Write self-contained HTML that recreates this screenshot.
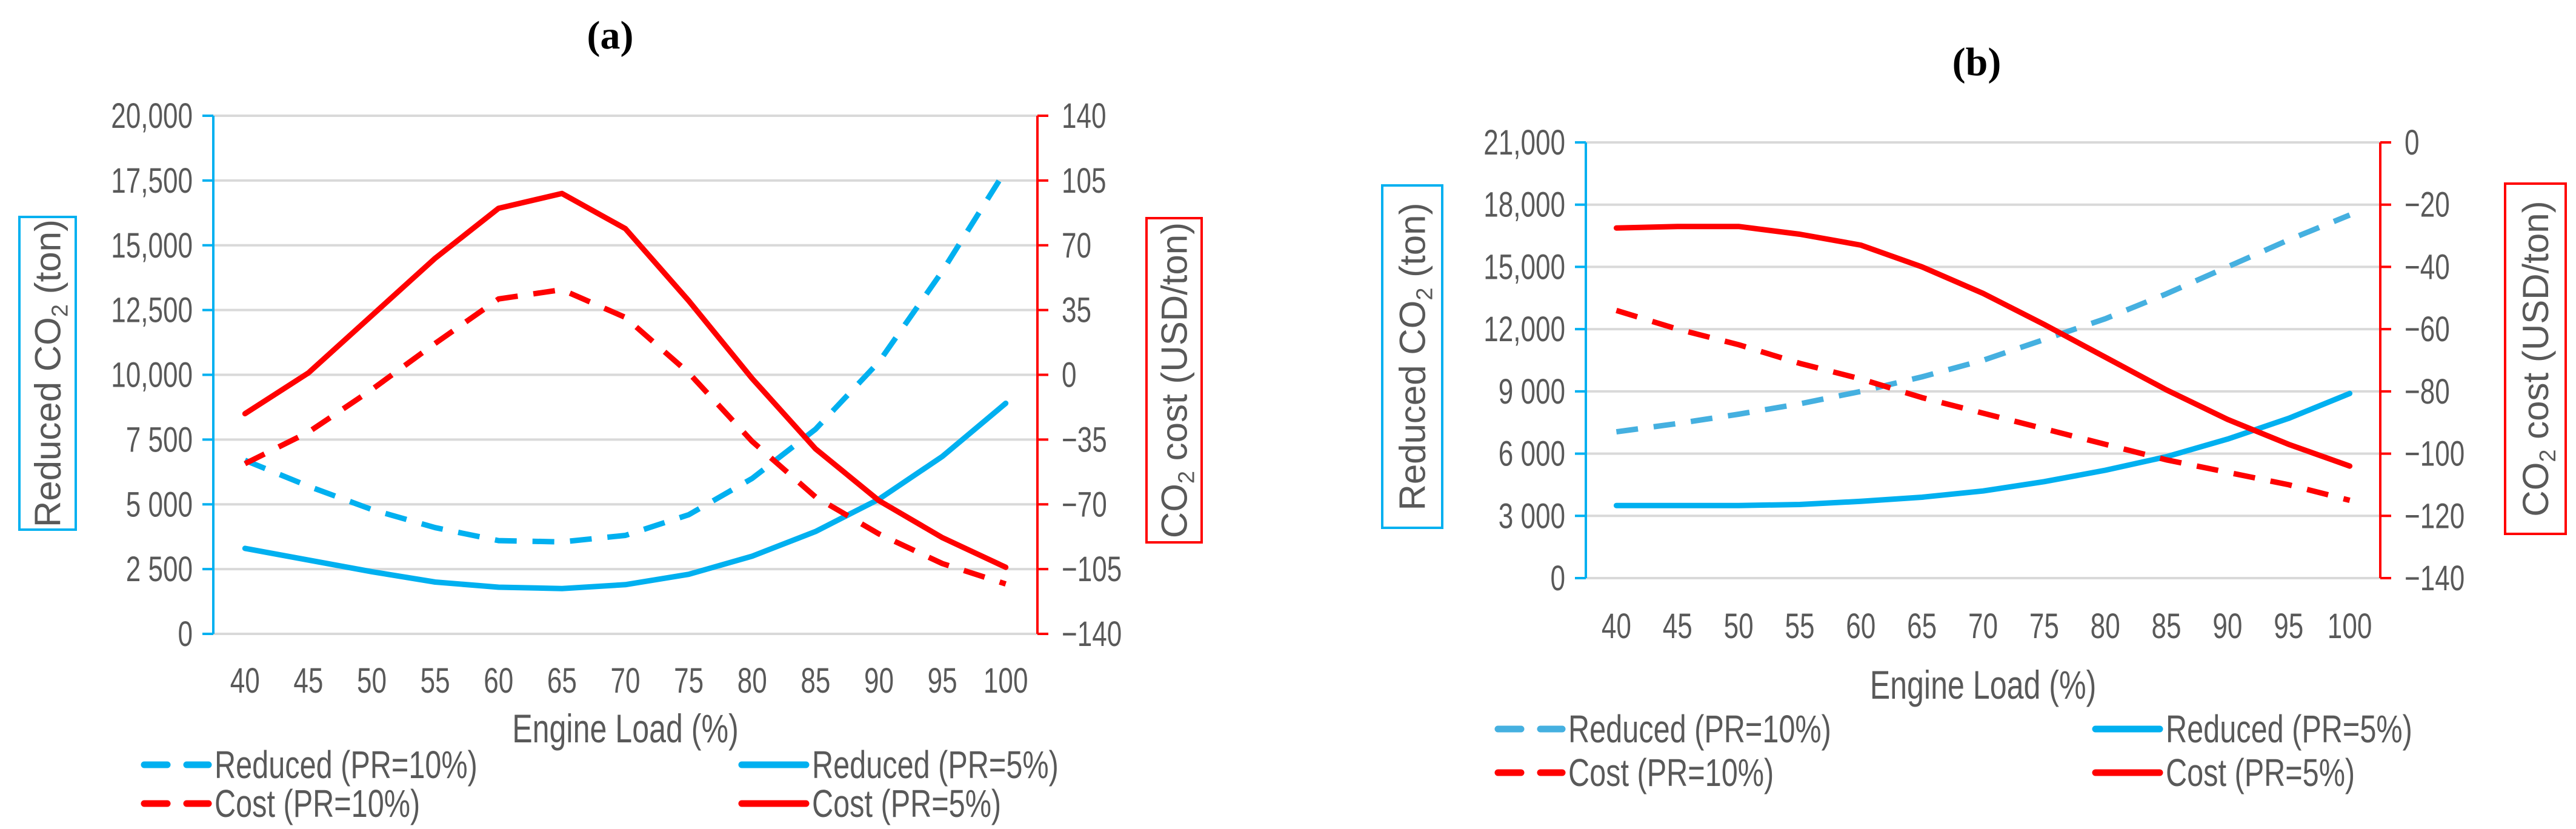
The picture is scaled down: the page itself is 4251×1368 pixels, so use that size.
<!DOCTYPE html>
<html><head><meta charset="utf-8">
<style>
html,body{margin:0;padding:0;background:#fff;}
svg{display:block;font-family:"Liberation Sans Narrow","Liberation Sans",sans-serif;}
</style></head>
<body>
<svg id="fig" width="4251" height="1368" viewBox="0 0 4251 1368" xmlns="http://www.w3.org/2000/svg">
<text x="1007" y="80" font-family="Liberation Serif, serif" font-weight="bold" font-size="66" text-anchor="middle">(a)</text>
<text x="3262" y="124" font-family="Liberation Serif, serif" font-weight="bold" font-size="66" text-anchor="middle">(b)</text>
</svg>
<script>
const categories = [40,45,50,55,60,65,70,75,80,85,90,95,100];
const aReduced10 = [6700,5700,4800,4100,3600,3550,3800,4600,6000,7900,10500,14000,17900];
const aReduced5 = [3300,2850,2400,2000,1800,1750,1900,2300,3000,3950,5200,6850,8900];
const aCost10 = [-48,-31,-8,17,41,46,31,1,-36,-66,-86,-102,-113];
const aCost5 = [-21,1,32,63,90,98,79,40,-2,-40,-68,-88,-104];
const aLeftTicks = ["0","2 500","5 000","7 500","10,000","12,500","15,000","17,500","20,000"];
const aRightTicks = ["−140","−105","−70","−35","0","35","70","105","140"];
const bReduced10 = [7050,7450,7900,8400,9000,9700,10500,11500,12500,13700,15000,16300,17500];
const bReduced5 = [3500,3500,3500,3550,3700,3900,4200,4650,5200,5850,6700,7700,8900];
const bCost10 = [-54,-60,-65,-71,-76,-82,-87,-92,-97,-102,-106,-110,-115];
const bCost5 = [-27.5,-27,-27,-29.5,-33,-40,-48.5,-58.5,-69,-79.5,-89,-97,-104];
const bLeftTicks = ["0","3 000","6 000","9 000","12,000","15,000","18,000","21,000"];
const bRightTicks = ["−140","−120","−100","−80","−60","−40","−20","0"];

const NS="http://www.w3.org/2000/svg";
const svg=document.getElementById('fig');
function mk(tag,attrs,parent){const e=document.createElementNS(NS,tag);for(const k in attrs)e.setAttribute(k,attrs[k]);(parent||svg).appendChild(e);return e;}
function ntext(parent,x,y,size,anchor,str){
  const w=mk('g',{transform:`translate(${x},${y}) scale(0.76,1)`},parent);
  const t=mk('text',{x:0,y:0,'font-size':size,fill:'#595959','text-anchor':anchor},w);
  t.textContent=str;
  return t;
}

function drawChart(p){
  const g=mk('g',{});
  
  
  const n=categories.length, bw=(p.R-p.L)/n;
  const xS=i=>p.L+bw*(i+0.5);
  const yL=v=>p.B-(v-p.lMin)/(p.lMax-p.lMin)*(p.B-p.T);
  const yR=v=>p.B-(v-p.rMin)/(p.rMax-p.rMin)*(p.B-p.T);
  const nt=p.leftTicks.length;
  for(let i=0;i<nt;i++){
    const v=p.lMin+(p.lMax-p.lMin)*i/(nt-1), y=yL(v);
    const gl=mk('line',{x1:p.L,x2:p.R,y1:y,y2:y,stroke:'#d9d9d9','stroke-width':4},g);
    
    
    mk('line',{x1:p.L-18,x2:p.L,y1:y,y2:y,stroke:'#00b0f0','stroke-width':4},g);
    mk('line',{x1:p.R,x2:p.R+18,y1:y,y2:y,stroke:'#ff0000','stroke-width':4},g);
    const t=ntext(g,p.L-34,y+20,58,'end',p.leftTicks[i]);
    
    
    const t2=ntext(g,p.R+40,y+20,58,'start',p.rightTicks[i]);
    
    
  }
  const la=mk('line',{x1:p.L,x2:p.L,y1:p.T,y2:p.B,stroke:'#00b0f0','stroke-width':4},g);
  
  
  const ra=mk('line',{x1:p.R,x2:p.R,y1:p.T,y2:p.B,stroke:'#ff0000','stroke-width':4},g);
  
  
  categories.forEach((c,i)=>{
    const t=ntext(g,xS(i),p.xLabY,58,'middle',String(c));
    
    
  });
  const xt=ntext(g,(p.L+p.R)/2,p.xTitleY,66,'middle','Engine Load (%)');
  
  
  const lb=p.lBox, rb=p.rBox;
  const lr=mk('rect',{x:lb[0],y:lb[1],width:lb[2],height:lb[3],fill:'none',stroke:'#00b0f0','stroke-width':4},g);
  
  
  const lt=mk('text',{transform:`translate(${lb[0]+lb[2]/2+21},${lb[1]+lb[3]/2}) rotate(-90)`,'font-size':60,fill:'#595959','text-anchor':'middle','font-family':'Liberation Sans, sans-serif'},g);
  lt.innerHTML='Reduced CO<tspan font-size="38" dy="12">2</tspan><tspan dy="-12"> (ton)</tspan>';
  
  
  const rr=mk('rect',{x:rb[0],y:rb[1],width:rb[2],height:rb[3],fill:'none',stroke:'#ff0000','stroke-width':4},g);
  
  
  const rt=mk('text',{transform:`translate(${rb[0]+rb[2]/2+21},${rb[1]+rb[3]/2}) rotate(-90)`,'font-size':60,fill:'#595959','text-anchor':'middle','font-family':'Liberation Sans, sans-serif'},g);
  rt.innerHTML='CO<tspan font-size="38" dy="12">2</tspan><tspan dy="-12"> cost (USD/ton)</tspan>';
  
  
  const series=[
    {d:p.r10,axis:yL,color:p.dashBlue,dash:true,name:'reduced-pr10'},
    {d:p.r5,axis:yL,color:'#00b0f0',dash:false,name:'reduced-pr5'},
    {d:p.c10,axis:yR,color:'#ff0000',dash:true,name:'cost-pr10'},
    {d:p.c5,axis:yR,color:'#ff0000',dash:false,name:'cost-pr5'}];
  series.forEach(s=>{
    const pts=s.d.map((v,i)=>xS(i).toFixed(1)+','+s.axis(v).toFixed(1)).join(' ');
    const pl=mk('polyline',{points:pts,fill:'none',stroke:s.color,'stroke-width':9,'stroke-linejoin':'round','stroke-linecap':s.dash?'butt':'round'},g);
    if(s.dash)pl.setAttribute('stroke-dasharray','36 26');
    
    
  });
  const leg=[
    {x:p.legX[0],y:p.legY[0],color:p.dashBlue,dash:true,label:'Reduced (PR=10%)'},
    {x:p.legX[1],y:p.legY[0],color:'#00b0f0',dash:false,label:'Reduced (PR=5%)'},
    {x:p.legX[0],y:p.legY[1],color:'#ff0000',dash:true,label:'Cost (PR=10%)'},
    {x:p.legX[1],y:p.legY[1],color:'#ff0000',dash:false,label:'Cost (PR=5%)'}];
  leg.forEach(l=>{
    const eg=mk('g',{},g);
    
    
    if(l.dash){
      mk('line',{x1:l.x,x2:l.x+38,y1:l.y,y2:l.y,stroke:l.color,'stroke-width':11,'stroke-linecap':'round'},eg);
      mk('line',{x1:l.x+70,x2:l.x+106,y1:l.y,y2:l.y,stroke:l.color,'stroke-width':11,'stroke-linecap':'round'},eg);
    } else {
      mk('line',{x1:l.x,x2:l.x+106,y1:l.y,y2:l.y,stroke:l.color,'stroke-width':11,'stroke-linecap':'round'},eg);
    }
    ntext(eg,l.x+116,l.y+22,64,'start',l.label);
  });
}

drawChart({id:'panel-a',L:352,R:1712,T:191,B:1046,lMin:0,lMax:20000,rMin:-140,rMax:140,
  leftTicks:aLeftTicks,rightTicks:aRightTicks,r10:aReduced10,r5:aReduced5,c10:aCost10,c5:aCost5,
  dashBlue:'#00b0f0',xLabY:1143,xTitleY:1225,lBox:[32,358,93,516],rBox:[1892,360,91,535],
  legX:[238,1224],legY:[1262,1326]});
drawChart({id:'panel-b',L:2617,R:3928,T:235,B:954,lMin:0,lMax:21000,rMin:-140,rMax:0,
  leftTicks:bLeftTicks,rightTicks:bRightTicks,r10:bReduced10,r5:bReduced5,c10:bCost10,c5:bCost5,
  dashBlue:'#45b0e0',xLabY:1053,xTitleY:1153,lBox:[2281,306,99,565],rBox:[4134,303,100,578],
  legX:[2472,3458],legY:[1203,1275]});
</script>
</body></html>
